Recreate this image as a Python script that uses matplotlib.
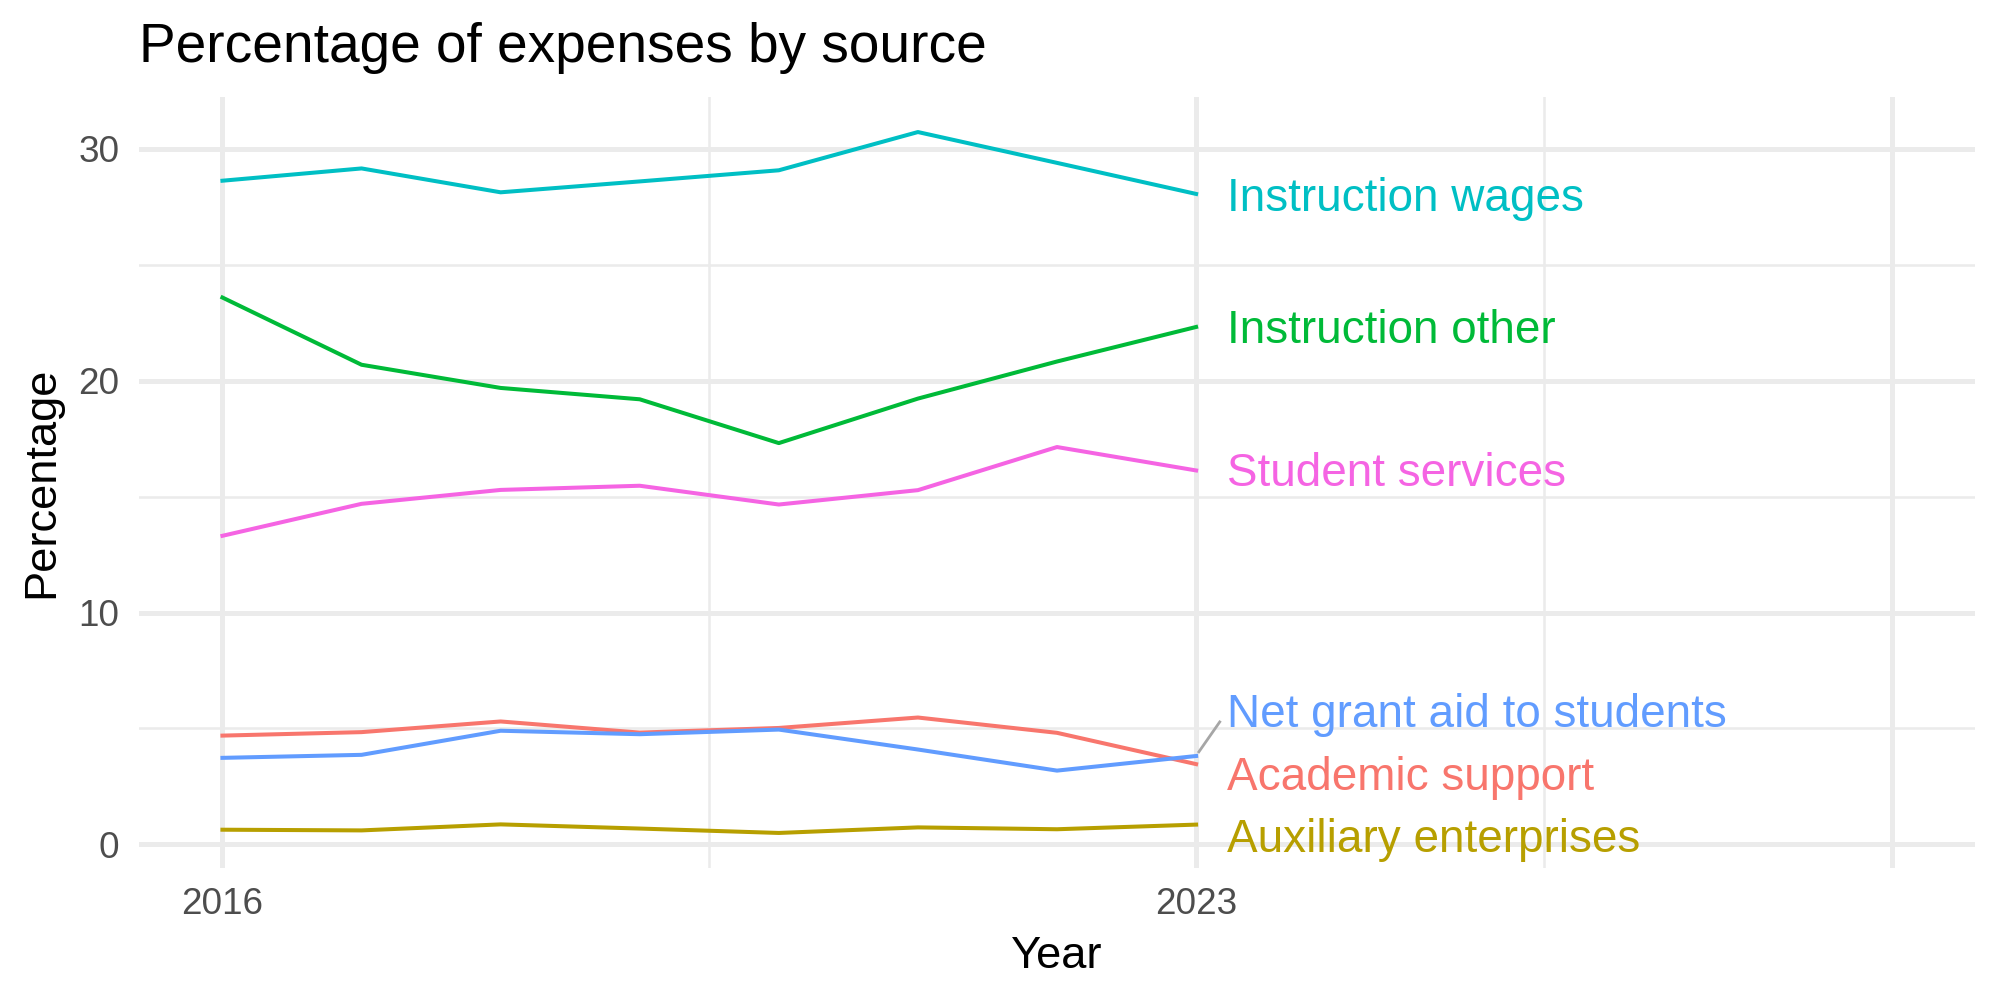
import numpy as np
import matplotlib
matplotlib.use("Agg")
import matplotlib.pyplot as plt


# =========================================================
# DATOS
# =========================================================

years = [2016, 2017, 2018, 2019, 2020, 2021, 2022, 2023]

categories = [
    "Academic support",
    "Auxiliary enterprises",
    "Instruction other",
    "Instruction wages",
    "Net grant aid to students",
    "Student services",
]

academic_support = [4.69, 4.84, 5.30, 4.82, 5.02, 5.47, 4.81, 3.46]
auxiliary_enterprises = [0.63, 0.60, 0.86, 0.68, 0.49, 0.73, 0.65, 0.85]
instruction_other = [23.59, 20.69, 19.69, 19.20, 17.31, 19.23, 20.83, 22.32]
instruction_wages = [28.63, 29.16, 28.13, 28.60, 29.08, 30.73, 29.40, 28.06]
net_grant_aid = [3.73, 3.86, 4.90, 4.75, 4.95, 4.09, 3.18, 3.81]
student_services = [13.31, 14.69, 15.29, 15.47, 14.66, 15.28, 17.14, 16.13]

series = [
    academic_support,
    auxiliary_enterprises,
    instruction_other,
    instruction_wages,
    net_grant_aid,
    student_services,
]

colors = ["#F8766D", "#B79F00", "#00BA38", "#00BFC4", "#619CFF", "#F564E3"]

# posicion de las etiquetas (linea base del texto)
label_x = 2023.22
label_y = [2.33, -0.35, 21.63, 27.32, 5.06, 15.46]

# segmento de la etiqueta desplazada (Net grant aid)
segment_x = [2023.02, 2023.17]
segment_y = [3.99, 5.28]

x_breaks = [2016, 2023, 2028]
x_labels = ["2016", "2023", ""]
x_minor = [2019.5, 2025.5]
y_breaks = [0, 10, 20, 30]
y_minor = [5, 15, 25]


# =========================================================
# FIGURA
# =========================================================

plt.rcParams["font.family"] = ["Liberation Sans", "DejaVu Sans"]

fig = plt.figure(figsize=(10, 5), dpi=200)
ax = fig.add_axes([0.0695, 0.132, 0.918, 0.771])

grid_color = "#EBEBEB"

for x in x_breaks:
    ax.axvline(x, color=grid_color, linewidth=1.8, zorder=0)
for x in x_minor:
    ax.axvline(x, color=grid_color, linewidth=0.9, zorder=0)
for y in y_breaks:
    ax.axhline(y, color=grid_color, linewidth=1.8, zorder=0)
for y in y_minor:
    ax.axhline(y, color=grid_color, linewidth=0.9, zorder=0)

for values, color in zip(series, colors):
    ax.plot(years, values, color=color, linewidth=1.45, zorder=2)

ax.plot(segment_x, segment_y, color="#A6A6A6", linewidth=1.0, zorder=2)

for name, y, color in zip(categories, label_y, colors):
    ax.text(
        label_x, y, name,
        color=color,
        fontsize=16.5,
        ha="left",
        va="baseline",
        zorder=3
    )

# limites con expansion del 5%
x_min, x_max = 2016, 2028
y_min = min(min(s) for s in series)
y_max = max(max(s) for s in series)

x_pad = 0.05 * (x_max - x_min)
y_pad = 0.05 * (y_max - y_min)

ax.set_xlim(x_min - x_pad, x_max + x_pad)
ax.set_ylim(y_min - y_pad, y_max + y_pad)

ax.set_xticks(x_breaks)
ax.set_xticklabels(x_labels)
ax.set_yticks(y_breaks)

ax.tick_params(
    axis="both",
    length=0,
    labelsize=13.3,
    labelcolor="#4D4D4D",
    pad=7
)

for spine in ax.spines.values():
    spine.set_visible(False)

ax.set_xlabel("Year", fontsize=16.3, labelpad=5)
ax.set_ylabel("Percentage", fontsize=16.3, labelpad=6)

fig.text(
    0.0695, 0.938,
    "Percentage of expenses by source",
    fontsize=19.8,
    ha="left",
    va="baseline"
)

fig.savefig("out.png", dpi=200, facecolor="white")
